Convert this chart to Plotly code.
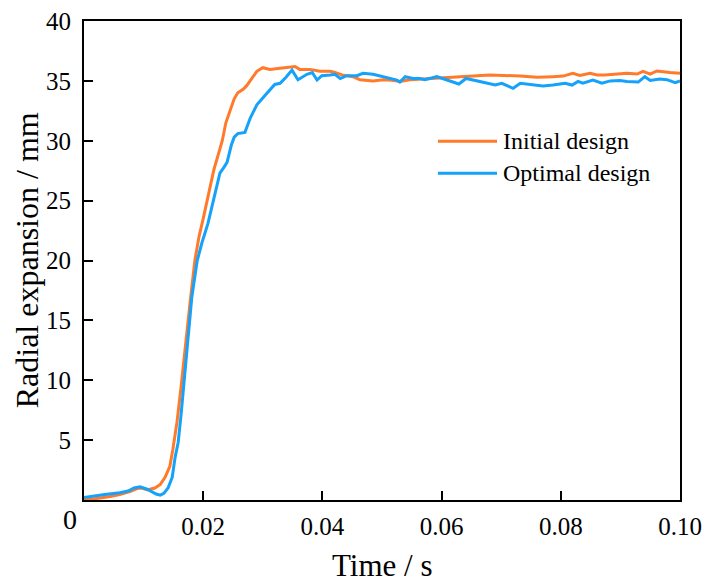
import plotly.graph_objects as go

# Time (s) and radial expansion (mm) for the two designs
t_initial = [0.0, 0.0018, 0.0044, 0.0060, 0.0077, 0.0089, 0.0097, 0.0107, 0.0119, 0.0128,
             0.0136, 0.0144, 0.0149, 0.0156, 0.0163, 0.0169, 0.0178, 0.0186, 0.0193, 0.0200,
             0.0210, 0.0218, 0.0225, 0.0232, 0.0238, 0.0245, 0.0252, 0.0258, 0.0267, 0.0273,
             0.0282, 0.0290, 0.0300, 0.0312, 0.0329, 0.0346, 0.0354, 0.0362, 0.0379, 0.0396,
             0.0413, 0.0421, 0.0433, 0.0451, 0.0463, 0.0485, 0.0502, 0.0517, 0.0530, 0.0547,
             0.0586, 0.0631, 0.0681, 0.0732, 0.0760, 0.0787, 0.0804, 0.0820, 0.0832, 0.0849,
             0.0861, 0.0874, 0.0888, 0.0911, 0.0928, 0.0938, 0.0950, 0.0961, 0.0983, 0.1000]
r_initial = [0.05, 0.1, 0.3, 0.45, 0.7, 0.95, 1.0, 0.85, 1.0, 1.3,
             1.9, 2.8, 4.2, 6.5, 9.5, 12.5, 16.5, 20.0, 22.0, 23.5,
             25.8, 27.6, 28.8, 30.0, 31.5, 32.6, 33.5, 34.0, 34.3, 34.6,
             35.2, 35.8, 36.1, 35.96, 36.05, 36.13, 36.2, 35.96, 35.96, 35.8,
             35.8, 35.7, 35.5, 35.35, 35.1, 35.0, 35.1, 35.05, 34.95, 35.1,
             35.2, 35.35, 35.5, 35.4, 35.3, 35.35, 35.4, 35.63, 35.46, 35.63,
             35.5, 35.5, 35.57, 35.63, 35.57, 35.8, 35.57, 35.83, 35.7, 35.63]

t_optimal = [0.0, 0.0018, 0.0035, 0.0060, 0.0074, 0.0084, 0.0094, 0.0106, 0.0114, 0.0121,
             0.0128, 0.0134, 0.0141, 0.0148, 0.0153, 0.0158, 0.0163, 0.0168, 0.0174, 0.0181,
             0.0190, 0.0198, 0.0208, 0.0215, 0.0220, 0.0228, 0.0235, 0.0240, 0.0247, 0.0252,
             0.0258, 0.0270, 0.0279, 0.0290, 0.0304, 0.0320, 0.0329, 0.0339, 0.0349, 0.0359,
             0.0374, 0.0383, 0.0391, 0.0399, 0.0413, 0.0421, 0.0430, 0.0441, 0.0458, 0.0468,
             0.0485, 0.0502, 0.0513, 0.0525, 0.0530, 0.0539, 0.0552, 0.0564, 0.0572, 0.0592,
             0.0609, 0.0629, 0.0641, 0.0659, 0.0676, 0.0690, 0.0701, 0.0720, 0.0732, 0.0753,
             0.0770, 0.0787, 0.0807, 0.0819, 0.0829, 0.0837, 0.0854, 0.0869, 0.0883, 0.0899,
             0.0911, 0.0930, 0.0941, 0.0950, 0.0966, 0.0978, 0.0992, 0.1000]
r_optimal = [0.2, 0.3, 0.45, 0.6, 0.75, 1.0, 1.1, 0.9, 0.7, 0.5,
             0.4, 0.55, 1.0, 1.9, 3.6, 4.8, 7.2, 10.0, 12.8, 17.0,
             20.0, 21.5, 23.1, 24.5, 25.6, 27.3, 27.8, 28.2, 29.6, 30.3,
             30.6, 30.7, 31.9, 33.0, 33.8, 34.7, 34.8, 35.3, 35.9, 35.1,
             35.55, 35.7, 35.07, 35.43, 35.5, 35.55, 35.2, 35.43, 35.43, 35.63,
             35.55, 35.35, 35.2, 35.07, 34.9, 35.35, 35.2, 35.2, 35.1, 35.35,
             35.07, 34.74, 35.2, 35.0, 34.85, 34.65, 34.8, 34.38, 34.8, 34.7,
             34.57, 34.65, 34.8, 34.65, 34.95, 34.8, 35.07, 34.8, 35.0, 35.03,
             34.95, 34.9, 35.35, 35.03, 35.16, 35.1, 34.85, 35.0]

series_names = ["Initial design", "Optimal design"]
series_colors = ["#FF7A2A", "#14A2FA"]

x_tick_vals = [0.02, 0.04, 0.06, 0.08, 0.10]
x_tick_text = ["0.02", "0.04", "0.06", "0.08", "0.10"]
y_tick_vals = [5, 10, 15, 20, 25, 30, 35, 40]

FONT = "Liberation Serif, Times New Roman, serif"

fig = go.Figure()
fig.add_trace(go.Scatter(x=t_initial, y=r_initial, mode="lines", name=series_names[0],
                         line=dict(color=series_colors[0], width=3), showlegend=False))
fig.add_trace(go.Scatter(x=t_optimal, y=r_optimal, mode="lines", name=series_names[1],
                         line=dict(color=series_colors[1], width=3), showlegend=False))

# Legend drawn as line samples with labels
legend_y = [0.749, 0.682]
for name, color, ly in zip(series_names, series_colors, legend_y):
    fig.add_shape(type="line", xref="paper", yref="paper", x0=0.594, x1=0.693, y0=ly, y1=ly,
                  line=dict(color=color, width=3))
    fig.add_annotation(text=name, xref="paper", yref="paper", x=0.700, y=ly,
                       xanchor="left", yanchor="middle", showarrow=False,
                       font=dict(family=FONT, size=24, color="black"))

# Shared origin label
fig.add_annotation(text="0", xref="paper", yref="paper", x=-0.024, y=-0.04,
                   xanchor="center", yanchor="middle", showarrow=False,
                   font=dict(family=FONT, size=28, color="black"))

# Axis titles
fig.add_annotation(text="Time / s", xref="paper", yref="paper", x=0.5, y=-0.136,
                   xanchor="center", yanchor="middle", showarrow=False,
                   font=dict(family=FONT, size=31, color="black"))
fig.add_annotation(text="Radial expansion / mm", xref="paper", yref="paper", x=-0.096, y=0.5,
                   xanchor="center", yanchor="middle", showarrow=False, textangle=-90,
                   font=dict(family=FONT, size=32, color="black"))

axis_common = dict(showline=True, linecolor="black", linewidth=2, mirror=True,
                   ticks="inside", ticklen=9, tickwidth=1.5, tickcolor="black",
                   showgrid=False, zeroline=False, automargin=False,
                   tickfont=dict(family=FONT, size=25, color="black"))

fig.update_xaxes(range=[0, 0.1], tickvals=x_tick_vals, ticktext=x_tick_text,
                 ticklabelstandoff=3, **axis_common)
fig.update_yaxes(range=[0, 40], tickvals=y_tick_vals, ticklabelstandoff=6,
                 **axis_common)

fig.update_layout(width=703, height=584, margin=dict(l=84, r=23, t=21, b=84),
                  plot_bgcolor="white", paper_bgcolor="white")

fig.write_html("out.html")
